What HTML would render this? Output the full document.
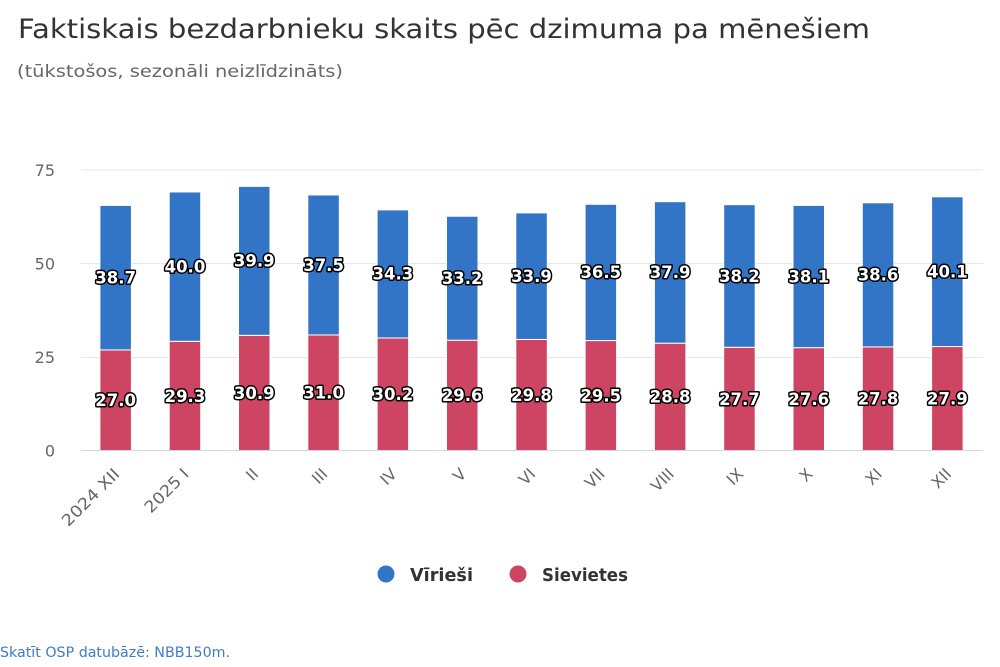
<!DOCTYPE html>
<html><head><meta charset="utf-8"><style>
html,body{margin:0;padding:0;background:#fff;}
svg{display:block;}
text{font-family:"DejaVu Sans","Liberation Sans",sans-serif;}
.dl{font-weight:bold;font-size:16.5px;fill:#fff;stroke:#000;stroke-width:3px;paint-order:stroke;stroke-linejoin:round;text-anchor:middle;}
.xl{font-size:16px;fill:#666;text-anchor:end;}
.yl{font-size:16px;fill:#666;text-anchor:end;}
</style></head><body>
<svg width="1000" height="667" viewBox="0 0 1000 667" xmlns="http://www.w3.org/2000/svg">
<rect width="1000" height="667" fill="#fff"/>
<text x="18" y="38" font-size="26.5" fill="#333" textLength="852" lengthAdjust="spacingAndGlyphs">Faktiskais bezdarbnieku skaits pēc dzimuma pa mēnešiem</text>
<text x="17" y="77" font-size="17" fill="#666" textLength="326" lengthAdjust="spacingAndGlyphs">(tūkstošos, sezonāli neizlīdzināts)</text>

<g stroke="#e6e6e6" stroke-width="1">
<line x1="81" x2="983" y1="170" y2="170"/>
<line x1="81" x2="983" y1="263.5" y2="263.5"/>
<line x1="81" x2="983" y1="357.5" y2="357.5"/>
</g>
<g class="yl">
<text x="55" y="176">75</text>
<text x="55" y="269.5">50</text>
<text x="55" y="363">25</text>
<text x="55" y="456.5">0</text>
</g>

<g fill="#cd4563" stroke="#fff" stroke-width="1">
<rect x="99.9" y="349.9" width="31.5" height="100.8"/>
<rect x="169.2" y="341.31" width="31.5" height="109.39"/>
<rect x="238.5" y="335.34" width="31.5" height="115.36"/>
<rect x="307.8" y="334.97" width="31.5" height="115.73"/>
<rect x="377.1" y="337.95" width="31.5" height="112.75"/>
<rect x="446.5" y="340.19" width="31.5" height="110.51"/>
<rect x="515.8" y="339.45" width="31.5" height="111.25"/>
<rect x="585.1" y="340.57" width="31.5" height="110.13"/>
<rect x="654.4" y="343.18" width="31.5" height="107.52"/>
<rect x="723.7" y="347.29" width="31.5" height="103.41"/>
<rect x="793.0" y="347.66" width="31.5" height="103.04"/>
<rect x="862.3" y="346.91" width="31.5" height="103.79"/>
<rect x="931.6" y="346.54" width="31.5" height="104.16"/>
</g>
<g fill="#3274c5" stroke="#fff" stroke-width="1">
<rect x="99.9" y="205.42" width="31.5" height="144.48"/>
<rect x="169.2" y="191.98" width="31.5" height="149.33"/>
<rect x="238.5" y="186.38" width="31.5" height="148.96"/>
<rect x="307.8" y="194.97" width="31.5" height="140.0"/>
<rect x="377.1" y="209.9" width="31.5" height="128.05"/>
<rect x="446.5" y="216.24" width="31.5" height="123.95"/>
<rect x="515.8" y="212.89" width="31.5" height="126.56"/>
<rect x="585.1" y="204.3" width="31.5" height="136.27"/>
<rect x="654.4" y="201.69" width="31.5" height="141.49"/>
<rect x="723.7" y="204.68" width="31.5" height="142.61"/>
<rect x="793.0" y="205.42" width="31.5" height="142.24"/>
<rect x="862.3" y="202.8" width="31.5" height="144.11"/>
<rect x="931.6" y="196.83" width="31.5" height="149.71"/>
</g>
<line x1="81" x2="983" y1="450.5" y2="450.5" stroke="#ccd6eb" stroke-width="1"/>

<g class="dl">
<text x="115.65" y="406">27.0</text>
<text x="184.96" y="401.8">29.3</text>
<text x="254.27" y="398.8">30.9</text>
<text x="323.58" y="398.6">31.0</text>
<text x="392.89" y="400.1">30.2</text>
<text x="462.2" y="401.2">29.6</text>
<text x="531.51" y="400.9">29.8</text>
<text x="600.82" y="401.4">29.5</text>
<text x="670.13" y="402.7">28.8</text>
<text x="739.44" y="404.8">27.7</text>
<text x="808.75" y="405">27.6</text>
<text x="878.06" y="404.6">27.8</text>
<text x="947.37" y="404.4">27.9</text>

<text x="115.65" y="283.5">38.7</text>
<text x="184.96" y="272.4">40.0</text>
<text x="254.27" y="266.7">39.9</text>
<text x="323.58" y="270.8">37.5</text>
<text x="392.89" y="279.7">34.3</text>
<text x="462.2" y="284">33.2</text>
<text x="531.51" y="282">33.9</text>
<text x="600.82" y="278.2">36.5</text>
<text x="670.13" y="278.2">37.9</text>
<text x="739.44" y="281.8">38.2</text>
<text x="808.75" y="282.3">38.1</text>
<text x="878.06" y="280.7">38.6</text>
<text x="947.37" y="277.5">40.1</text>
</g>

<g class="xl">
<text transform="translate(120.6,475) rotate(-45)" textLength="74" lengthAdjust="spacingAndGlyphs">2024 XII</text>
<text transform="translate(189.9,475) rotate(-45)" textLength="55" lengthAdjust="spacingAndGlyphs">2025 I</text>
<text transform="translate(259.3,475) rotate(-45)">II</text>
<text transform="translate(328.6,475) rotate(-45)">III</text>
<text transform="translate(397.9,475) rotate(-45)">IV</text>
<text transform="translate(467.2,475) rotate(-45)">V</text>
<text transform="translate(536.5,475) rotate(-45)">VI</text>
<text transform="translate(605.8,475) rotate(-45)">VII</text>
<text transform="translate(675.1,475) rotate(-45)">VIII</text>
<text transform="translate(744.4,475) rotate(-45)">IX</text>
<text transform="translate(813.8,475) rotate(-45)">X</text>
<text transform="translate(883.1,475) rotate(-45)">XI</text>
<text transform="translate(952.4,475) rotate(-45)">XII</text>
</g>

<circle cx="386" cy="574" r="8.5" fill="#3274c5"/>
<text x="410" y="581" font-size="18" font-weight="bold" fill="#333" textLength="63" lengthAdjust="spacingAndGlyphs">Vīrieši</text>
<circle cx="518" cy="574" r="8.5" fill="#cd4563"/>
<text x="542" y="581" font-size="18" font-weight="bold" fill="#333" textLength="86" lengthAdjust="spacingAndGlyphs">Sievietes</text>

<text x="0" y="657" font-size="14" fill="#3f7cc6" textLength="230" lengthAdjust="spacingAndGlyphs">Skatīt OSP datubāzē: NBB150m.</text>
</svg>
</body></html>
